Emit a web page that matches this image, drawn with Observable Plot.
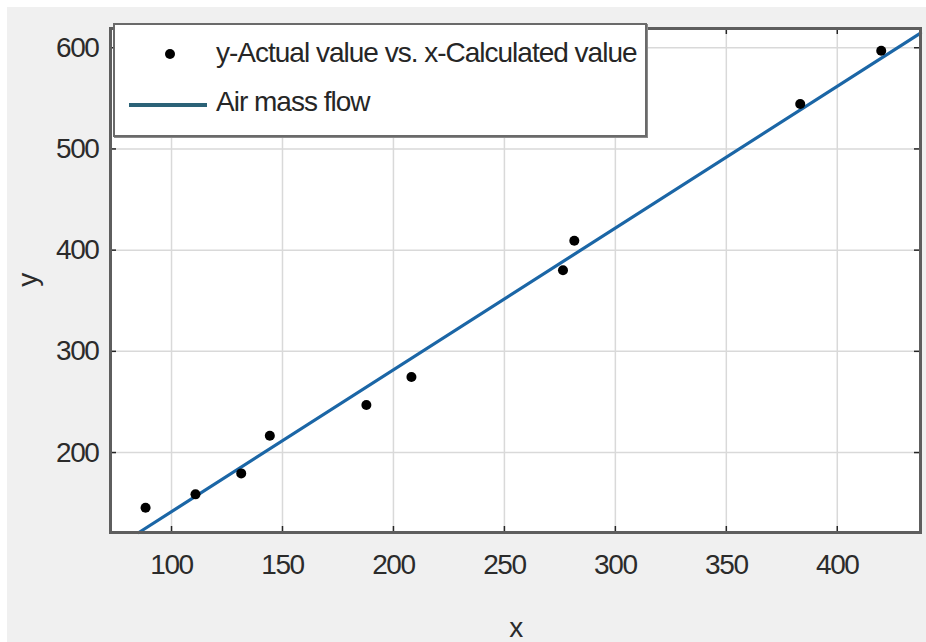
<!DOCTYPE html>
<html>
<head>
<meta charset="utf-8">
<script src="https://cdn.jsdelivr.net/npm/d3@7"></script>
<script src="https://cdn.jsdelivr.net/npm/@observablehq/plot@0.6"></script>
<style>
  html, body { margin: 0; padding: 0; background: #ffffff; }
  body { width: 926px; height: 642px; position: relative; overflow: hidden;
         font-family: "Liberation Sans", Arial, sans-serif; }
  #fig { position: absolute; left: 7px; top: 7px; width: 919px; height: 635px; background: #f0f0f0; }
  #fig svg text { letter-spacing: -1.4px; }
  #legend { position: absolute; left: 113px; top: 23px; width: 530px; height: 110px;
            background: #ffffff; border: 2px solid #6a6a6a; box-shadow: 1px 1px 0 #8a8a8a; }
  #legend svg { position: absolute; left: 0; top: 0; }
  .lg { position: absolute; left: 101px; font-size: 28px; color: #262626; white-space: nowrap;
        line-height: 1; letter-spacing: -1px; }
</style>
</head>
<body>
<div id="fig"></div>
<div id="legend">
  <svg width="530" height="110">
    <circle cx="55" cy="29" r="5" fill="#000"></circle>
    <line x1="14" x2="92" y1="80" y2="80" stroke="#2b6277" stroke-width="4"></line>
  </svg>
  <div class="lg" style="top:14px">y-Actual value vs. x-Calculated value</div>
  <div class="lg" style="top:63px">Air mass flow</div>
</div>
<script>
// Measured points: x = calculated value, y = actual value
const calcX   = [88.3, 110.8, 131.4, 144.3, 187.8, 208.1, 276.4, 281.5, 383.3, 419.8];
const actualY = [145.5, 158.7, 179.4, 216.6, 246.9, 274.6, 380.2, 409.2, 544.4, 597.0];
// Fitted line "Air mass flow" (visible endpoints)
const fitX = [85.3, 437.5];
const fitY = [121.0, 614.5];
// Axes
const xDomain = [72.5, 437.5];
const yDomain = [121, 619];
const xTicks = [100, 150, 200, 250, 300, 350, 400];
const yTicks = [200, 300, 400, 500, 600];

const points = calcX.map((x, i) => ({x, y: actualY[i]}));
const fit = fitX.map((x, i) => ({x, y: fitY[i]}));

const W = 919, H = 635;
const mL = 103, mT = 21, mR = 6, mB = 110;
const plotW = W - mL - mR, plotH = H - mT - mB;
const tl = 6;
const font = '"Liberation Sans", Arial, sans-serif';

const chart = Plot.plot({
  width: W, height: H,
  marginLeft: mL, marginTop: mT, marginRight: mR, marginBottom: mB,
  style: {background: "transparent", fontFamily: font, color: "#2b2b2b", overflow: "visible"},
  x: {domain: xDomain, ticks: xTicks},
  y: {domain: yDomain, ticks: yTicks},
  marks: [
    Plot.frame({fill: "#ffffff"}),
    Plot.gridX(xTicks, {stroke: "#d9d9d9", strokeOpacity: 1, strokeWidth: 1.5}),
    Plot.gridY(yTicks, {stroke: "#d9d9d9", strokeOpacity: 1, strokeWidth: 1.5}),
    // inward tick marks on all four sides
    Plot.tickX(xTicks, {x: d => d, insetTop: plotH - tl, stroke: "#262626", strokeWidth: 1.5}),
    Plot.tickX(xTicks, {x: d => d, insetBottom: plotH - tl, stroke: "#262626", strokeWidth: 1.5}),
    Plot.tickY(yTicks, {y: d => d, insetRight: plotW - tl, stroke: "#262626", strokeWidth: 1.5}),
    Plot.tickY(yTicks, {y: d => d, insetLeft: plotW - tl, stroke: "#262626", strokeWidth: 1.5}),
    Plot.axisX(xTicks, {tickSize: 0, tickPadding: 22, fontSize: 28, label: "x",
      labelAnchor: "center", labelOffset: 104, labelArrow: "none"}),
    Plot.axisY(yTicks, {tickSize: 0, tickPadding: 12, fontSize: 28, label: "y",
      labelAnchor: "center", labelOffset: 93, labelArrow: "none"}),
    Plot.line(fit, {x: "x", y: "y", stroke: "#1b66a6", strokeWidth: 3.2}),
    Plot.dot(points, {x: "x", y: "y", r: 5, fill: "#000000", stroke: "none"}),
    Plot.frame({stroke: "#5e5e5e", strokeWidth: 3})
  ]
});
document.getElementById("fig").appendChild(chart);
</script>
</body>
</html>
